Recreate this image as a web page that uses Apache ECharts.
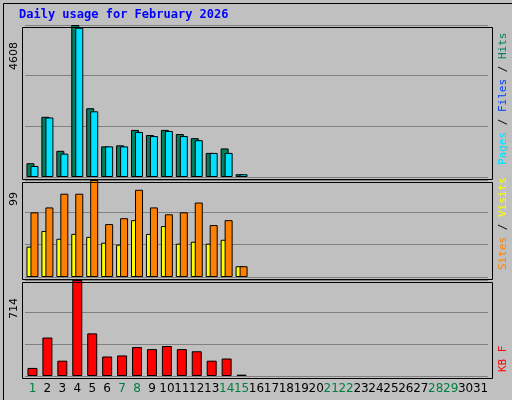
<!DOCTYPE html>
<html>
<head>
<meta charset="utf-8">
<script src="https://cdn.jsdelivr.net/npm/echarts@6/dist/echarts.min.js"></script>
<style>
  html, body { margin: 0; padding: 0; background: #c0c0c0; }
  #chart { width: 512px; height: 400px; }
</style>
</head>
<body>
<div id="chart"></div>
<script>
var days = [];
for (var d = 1; d <= 31; d++) days.push(String(d));
var weekendDays = ['1', '7', '8', '14', '15', '21', '22', '28', '29'];

var hits   = [417, 1825, 793, 4608, 2085, 928, 960, 1428, 1272, 1428, 1303, 1178, 730, 866, 83];
var files  = [334, 1804, 709, 4525, 1991, 928, 928, 1366, 1241, 1397, 1241, 1116, 730, 730, 83];
var sites  = [31, 47, 39, 44, 41, 35, 33, 58, 44, 52, 34, 36, 34, 38, 11];
var visits = [66, 71, 85, 85, 99, 54, 60, 89, 71, 64, 66, 76, 53, 58, 11];
var kbytes = [60, 286, 114, 714, 317, 145, 153, 215, 200, 223, 200, 184, 114, 130, 10];

var maxHits = 4608, maxVisits = 99, maxKB = 714;

var chart = echarts.init(document.getElementById('chart'));
var mono = 'DejaVu Sans Mono';
var tops = [25, 180, 280], heights = [152, 97, 96];
var maxes = [maxHits, maxVisits, maxKB];

function xAx(i) {
  return {
    type: 'category', data: days, gridIndex: i,
    axisLine: { show: false }, axisTick: { show: false },
    axisLabel: i === 2 ? {
      show: true, margin: 7, fontSize: 12, fontFamily: 'DejaVu Sans', interval: 0,
      color: function (v) { return weekendDays.indexOf(v) >= 0 ? '#008040' : '#000'; }
    } : { show: false }
  };
}
function yAx(i) {
  return {
    type: 'value', gridIndex: i, min: 0, max: maxes[i], interval: maxes[i] / 3,
    axisLabel: { show: false }, axisLine: { show: false }, axisTick: { show: false },
    splitLine: { lineStyle: { color: '#808080', width: 1 } }
  };
}
var bs = { borderColor: '#000', borderWidth: 1 };

var graphics = [
  { type: 'rect', left: 1, top: 1, shape: { width: 509, height: 397 },
    style: { fill: 'none', stroke: '#000', lineWidth: 1 }, silent: true },
  { type: 'text', left: 19, top: 9,
    style: { text: 'Daily usage for February 2026', fill: '#0000ff',
      font: 'bold 12px "DejaVu Sans Mono"' } },
  { type: 'text', x: 9, y: 42, rotation: Math.PI / 2,
    style: { text: String(maxHits), fill: '#000', font: '11px "DejaVu Sans"', align: 'right' } },
  { type: 'text', x: 9, y: 192, rotation: Math.PI / 2,
    style: { text: String(maxVisits), fill: '#000', font: '11px "DejaVu Sans"', align: 'right' } },
  { type: 'text', x: 9, y: 298, rotation: Math.PI / 2,
    style: { text: String(maxKB), fill: '#000', font: '11px "DejaVu Sans"', align: 'right' } },
  { type: 'text', x: 498, y: 165, rotation: Math.PI / 2,
    style: { rich: {
      p: { fill: '#00e0ff', font: '11px ' + mono },
      f: { fill: '#0040ff', font: '11px ' + mono },
      h: { fill: '#008060', font: '11px ' + mono },
      s: { fill: '#000', font: '11px ' + mono } },
      text: '{p|Pages}{s| / }{f|Files}{s| / }{h|Hits}' } },
  { type: 'text', x: 498, y: 270, rotation: Math.PI / 2,
    style: { rich: {
      a: { fill: '#ff8000', font: '11px ' + mono },
      b: { fill: '#ffff00', font: '11px ' + mono },
      s: { fill: '#000', font: '11px ' + mono } },
      text: '{a|Sites}{s| / }{b|Visits}' } },
  { type: 'text', x: 498, y: 372, rotation: Math.PI / 2,
    style: { text: 'KB F', fill: '#ff0000', font: '11px ' + mono } }
];
// panel frames
[0, 1, 2].forEach(function (i) {
  graphics.push({ type: 'rect', left: 20, top: tops[i], z: 10, silent: true,
    shape: { width: 470, height: heights[i] },
    style: { fill: 'none', stroke: '#000', lineWidth: 1 } });
});

chart.setOption({
  backgroundColor: '#c0c0c0',
  animation: false,
  grid: [0, 1, 2].map(function (i) {
    return { left: 25, right: 24, top: tops[i], height: heights[i] };
  }),
  xAxis: [xAx(0), xAx(1), xAx(2)],
  yAxis: [yAx(0), yAx(1), yAx(2)],
  series: [
    { type: 'bar', name: 'Hits', data: hits, xAxisIndex: 0, yAxisIndex: 0,
      barWidth: 8, barGap: '-50%', itemStyle: Object.assign({ color: '#008060' }, bs) },
    { type: 'bar', name: 'Files', data: files, xAxisIndex: 0, yAxisIndex: 0,
      barWidth: 8, itemStyle: Object.assign({ color: '#00e0ff' }, bs) },
    { type: 'bar', name: 'Sites', data: sites, xAxisIndex: 1, yAxisIndex: 1,
      barWidth: 8, barGap: '-50%', itemStyle: Object.assign({ color: '#ffff00' }, bs) },
    { type: 'bar', name: 'Visits', data: visits, xAxisIndex: 1, yAxisIndex: 1,
      barWidth: 8, itemStyle: Object.assign({ color: '#ff8000' }, bs) },
    { type: 'bar', name: 'KB', data: kbytes, xAxisIndex: 2, yAxisIndex: 2,
      barWidth: 10, itemStyle: Object.assign({ color: '#ff0000' }, bs) }
  ],
  graphic: graphics
});
</script>
</body>
</html>
